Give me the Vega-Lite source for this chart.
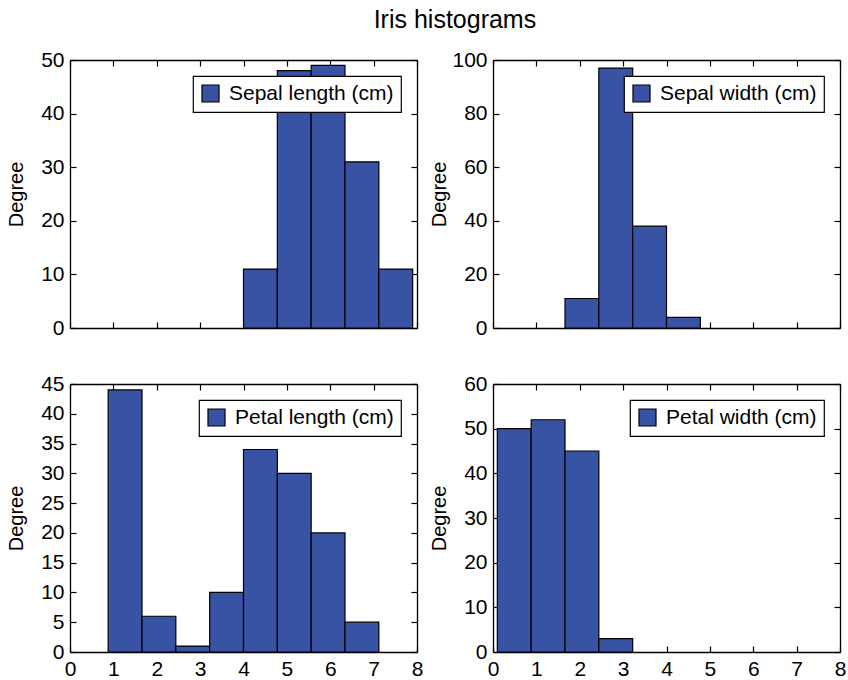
{
  "$schema": "https://vega.github.io/schema/vega-lite/v6.json",
  "padding": {"left": 6, "top": 8, "right": 2, "bottom": 2},
  "background": "white",
  "title": {"text": "Iris histograms", "fontSize": 25, "font": "Liberation Sans", "fontWeight": "normal", "anchor": "middle", "offset": 16, "dx": 29, "color": "black"},
  "data": {"values": [
    {"panel": "Sepal length (cm)", "x0": 4.0, "x1": 4.78, "count": 11},
    {"panel": "Sepal length (cm)", "x0": 4.78, "x1": 5.56, "count": 48},
    {"panel": "Sepal length (cm)", "x0": 5.56, "x1": 6.34, "count": 49},
    {"panel": "Sepal length (cm)", "x0": 6.34, "x1": 7.12, "count": 31},
    {"panel": "Sepal length (cm)", "x0": 7.12, "x1": 7.9, "count": 11},
    {"panel": "Sepal width (cm)", "x0": 1.66, "x1": 2.44, "count": 11},
    {"panel": "Sepal width (cm)", "x0": 2.44, "x1": 3.22, "count": 97},
    {"panel": "Sepal width (cm)", "x0": 3.22, "x1": 4.0, "count": 38},
    {"panel": "Sepal width (cm)", "x0": 4.0, "x1": 4.78, "count": 4},
    {"panel": "Petal length (cm)", "x0": 0.88, "x1": 1.66, "count": 44},
    {"panel": "Petal length (cm)", "x0": 1.66, "x1": 2.44, "count": 6},
    {"panel": "Petal length (cm)", "x0": 2.44, "x1": 3.22, "count": 1},
    {"panel": "Petal length (cm)", "x0": 3.22, "x1": 4.0, "count": 10},
    {"panel": "Petal length (cm)", "x0": 4.0, "x1": 4.78, "count": 34},
    {"panel": "Petal length (cm)", "x0": 4.78, "x1": 5.56, "count": 30},
    {"panel": "Petal length (cm)", "x0": 5.56, "x1": 6.34, "count": 20},
    {"panel": "Petal length (cm)", "x0": 6.34, "x1": 7.12, "count": 5},
    {"panel": "Petal width (cm)", "x0": 0.1, "x1": 0.88, "count": 50},
    {"panel": "Petal width (cm)", "x0": 0.88, "x1": 1.66, "count": 52},
    {"panel": "Petal width (cm)", "x0": 1.66, "x1": 2.44, "count": 45},
    {"panel": "Petal width (cm)", "x0": 2.44, "x1": 3.22, "count": 3}
  ]},
  "columns": 2,
  "spacing": {"row": 35, "column": 6},
  "align": "each",
  "resolve": {"scale": {"x": "independent", "y": "independent", "color": "independent"}, "legend": {"color": "independent"}, "axis": {"x": "independent", "y": "independent"}},
  "concat": [
    {
      "width": 347, "height": 268,
      "transform": [{"filter": "datum.panel === 'Sepal length (cm)'"}],
      "layer": [
        {"mark": {"type": "rect", "stroke": "black", "strokeWidth": 1.2},
         "encoding": {
           "x": {"field": "x0", "type": "quantitative", "scale": {"domain": [0, 8], "nice": false, "zero": false}, "axis": {"orient": "bottom", "values": [0,1,2,3,4,5,6,7,8], "labels": false, "title": null}},
           "x2": {"field": "x1"},
           "y": {"field": "count", "type": "quantitative", "scale": {"domain": [0, 50], "nice": false}, "axis": {"orient": "left", "values": [0,10,20,30,40,50], "title": "Degree", "titleX": -44}},
           "y2": {"datum": 0},
           "color": {"field": "panel", "type": "nominal", "scale": {"range": ["#3953a4"]}, "legend": {"title": null}}
         }},
        {"mark": {"type": "point", "opacity": 0},
         "encoding": {
           "x": {"field": "x0", "type": "quantitative", "scale": {"domain": [0, 8], "nice": false, "zero": false}, "axis": {"orient": "top", "values": [0,1,2,3,4,5,6,7,8], "labels": false, "title": null}},
           "y": {"field": "count", "type": "quantitative", "scale": {"domain": [0, 50], "nice": false}, "axis": {"orient": "right", "values": [0,10,20,30,40,50], "labels": false, "title": null}}
         }}
      ],
      "resolve": {"axis": {"x": "independent", "y": "independent"}}
    },
    {
      "width": 347, "height": 268,
      "transform": [{"filter": "datum.panel === 'Sepal width (cm)'"}],
      "layer": [
        {"mark": {"type": "rect", "stroke": "black", "strokeWidth": 1.2},
         "encoding": {
           "x": {"field": "x0", "type": "quantitative", "scale": {"domain": [0, 8], "nice": false, "zero": false}, "axis": {"orient": "bottom", "values": [0,1,2,3,4,5,6,7,8], "labels": false, "title": null}},
           "x2": {"field": "x1"},
           "y": {"field": "count", "type": "quantitative", "scale": {"domain": [0, 100], "nice": false}, "axis": {"orient": "left", "values": [0,20,40,60,80,100], "title": "Degree", "titleX": -44}},
           "y2": {"datum": 0},
           "color": {"field": "panel", "type": "nominal", "scale": {"range": ["#3953a4"]}, "legend": {"title": null}}
         }},
        {"mark": {"type": "point", "opacity": 0},
         "encoding": {
           "x": {"field": "x0", "type": "quantitative", "scale": {"domain": [0, 8], "nice": false, "zero": false}, "axis": {"orient": "top", "values": [0,1,2,3,4,5,6,7,8], "labels": false, "title": null}},
           "y": {"field": "count", "type": "quantitative", "scale": {"domain": [0, 100], "nice": false}, "axis": {"orient": "right", "values": [0,20,40,60,80,100], "labels": false, "title": null}}
         }}
      ],
      "resolve": {"axis": {"x": "independent", "y": "independent"}}
    },
    {
      "width": 347, "height": 268,
      "transform": [{"filter": "datum.panel === 'Petal length (cm)'"}],
      "layer": [
        {"mark": {"type": "rect", "stroke": "black", "strokeWidth": 1.2},
         "encoding": {
           "x": {"field": "x0", "type": "quantitative", "scale": {"domain": [0, 8], "nice": false, "zero": false}, "axis": {"orient": "bottom", "values": [0,1,2,3,4,5,6,7,8], "title": null}},
           "x2": {"field": "x1"},
           "y": {"field": "count", "type": "quantitative", "scale": {"domain": [0, 45], "nice": false}, "axis": {"orient": "left", "values": [0,5,10,15,20,25,30,35,40,45], "title": "Degree", "titleX": -44}},
           "y2": {"datum": 0},
           "color": {"field": "panel", "type": "nominal", "scale": {"range": ["#3953a4"]}, "legend": {"title": null}}
         }},
        {"mark": {"type": "point", "opacity": 0},
         "encoding": {
           "x": {"field": "x0", "type": "quantitative", "scale": {"domain": [0, 8], "nice": false, "zero": false}, "axis": {"orient": "top", "values": [0,1,2,3,4,5,6,7,8], "labels": false, "title": null}},
           "y": {"field": "count", "type": "quantitative", "scale": {"domain": [0, 45], "nice": false}, "axis": {"orient": "right", "values": [0,5,10,15,20,25,30,35,40,45], "labels": false, "title": null}}
         }}
      ],
      "resolve": {"axis": {"x": "independent", "y": "independent"}}
    },
    {
      "width": 347, "height": 268,
      "transform": [{"filter": "datum.panel === 'Petal width (cm)'"}],
      "layer": [
        {"mark": {"type": "rect", "stroke": "black", "strokeWidth": 1.2},
         "encoding": {
           "x": {"field": "x0", "type": "quantitative", "scale": {"domain": [0, 8], "nice": false, "zero": false}, "axis": {"orient": "bottom", "values": [0,1,2,3,4,5,6,7,8], "title": null}},
           "x2": {"field": "x1"},
           "y": {"field": "count", "type": "quantitative", "scale": {"domain": [0, 60], "nice": false}, "axis": {"orient": "left", "values": [0,10,20,30,40,50,60], "title": "Degree", "titleX": -44}},
           "y2": {"datum": 0},
           "color": {"field": "panel", "type": "nominal", "scale": {"range": ["#3953a4"]}, "legend": {"title": null}}
         }},
        {"mark": {"type": "point", "opacity": 0},
         "encoding": {
           "x": {"field": "x0", "type": "quantitative", "scale": {"domain": [0, 8], "nice": false, "zero": false}, "axis": {"orient": "top", "values": [0,1,2,3,4,5,6,7,8], "labels": false, "title": null}},
           "y": {"field": "count", "type": "quantitative", "scale": {"domain": [0, 60], "nice": false}, "axis": {"orient": "right", "values": [0,10,20,30,40,50,60], "labels": false, "title": null}}
         }}
      ],
      "resolve": {"axis": {"x": "independent", "y": "independent"}}
    }
  ],
  "config": {
    "view": {"stroke": null},
    "font": "Liberation Sans",
    "axis": {"domainColor": "black", "domainWidth": 1.3, "tickColor": "black", "tickWidth": 1.2, "tickSize": -6, "labelFont": "Liberation Sans", "labelFontSize": 21, "labelColor": "black", "labelPadding": 12, "labelFlush": false, "labelOverlap": false, "labelBound": false, "titleFont": "Liberation Sans", "titleFontSize": 20, "titleFontWeight": "normal", "titleColor": "black", "grid": false},
    "legend": {"orient": "top-right", "offset": 16, "strokeColor": "black", "fillColor": "white", "padding": 7, "labelFont": "Liberation Sans", "labelFontSize": 21, "labelLimit": 400, "labelColor": "black", "labelOffset": 8, "symbolType": "square", "symbolSize": 290, "symbolStrokeColor": "black", "symbolStrokeWidth": 1.2, "symbolOpacity": 1, "cornerRadius": 0, "strokeWidth": 1.2}
  }
}
